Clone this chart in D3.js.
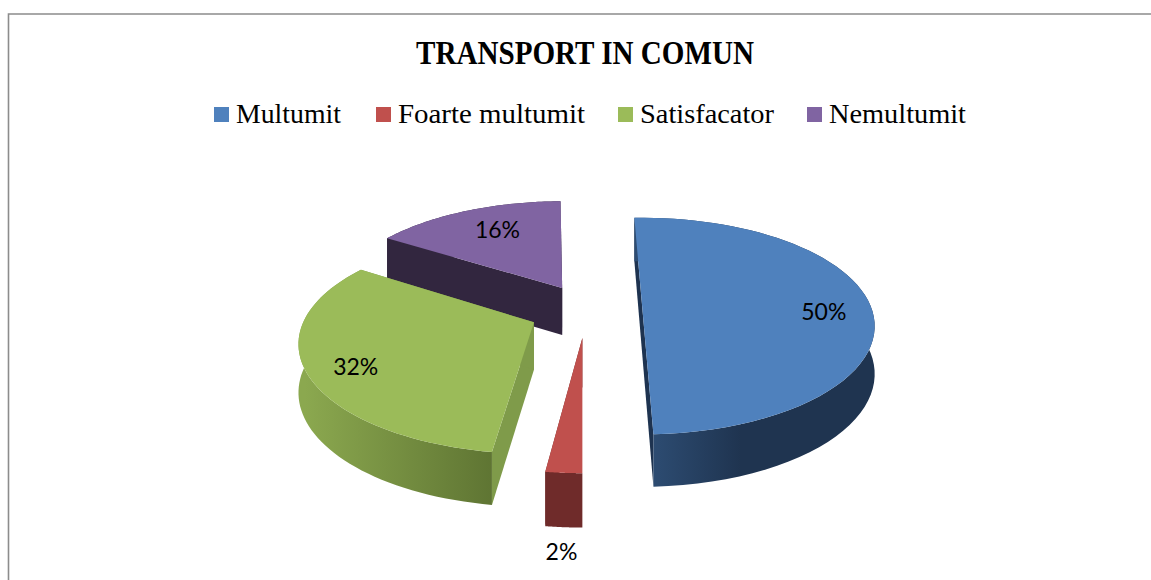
<!DOCTYPE html>
<html><head><meta charset="utf-8">
<script src="https://cdn.jsdelivr.net/npm/d3@7"></script>
<style>html,body{margin:0;padding:0;background:#fff}svg{display:block}</style>
</head><body><div id="chart"></div>
<script>
const chartTitle = "TRANSPORT IN COMUN";
const categories = ["Multumit", "Foarte multumit", "Satisfacator", "Nemultumit"];
const values = [50, 2, 32, 16];
const topColors = ["#4f81bd", "#c0504d", "#9bbb59", "#8064a2"];

const W = 1151, H = 580;
const svg = d3.select("#chart").append("svg").attr("width", W).attr("height", H);
const defs = svg.append("defs");

// chart frame (open at right and bottom, clipped by the window)
svg.append("path").attr("d", `M8.5,${H} V14 H${W}`).attr("fill", "none").attr("stroke", "#8c8c8c").attr("stroke-width", 1.6);

// title
svg.append("text").attr("x", 416).attr("y", 64).text(chartTitle)
  .attr("font-family", "Liberation Serif").attr("font-weight", "bold").attr("font-size", 33)
  .attr("textLength", 338).attr("lengthAdjust", "spacingAndGlyphs").attr("fill", "#000");

// legend
const legendSwatchX = [214, 376, 618, 807];
const legendTextW = [105, 187, 134, 137];
const legend = svg.append("g").selectAll("g").data(categories).join("g");
legend.append("rect").attr("x", (d, i) => legendSwatchX[i]).attr("y", 107).attr("width", 15).attr("height", 15)
  .attr("fill", (d, i) => topColors[i]);
legend.append("text").attr("x", (d, i) => legendSwatchX[i] + 22).attr("y", 123).text(d => d)
  .attr("font-family", "Liberation Serif").attr("font-size", 28)
  .attr("textLength", (d, i) => legendTextW[i]).attr("lengthAdjust", "spacingAndGlyphs").attr("fill", "#000");

// 3D pie: each slice is projected in perspective about its own apex,
// then moved outwards (explosion) in screen space.
const cx = 585, cy = 307, Rx = 228, Ry = 104, persp = 5, depth = 47, explodeX = 58, explodeY = 30;
const sX = d3.scaleLinear().domain([0, 1]).range([0, Rx]);
const sY = d3.scaleLinear().domain([0, 1]).range([0, Ry]);
const project = (u, v, z = 0) => {
  const s = persp / (persp - v);
  const zs = 1 + (s - 1) * 0.45;
  return [sX(u) * s, sY(v) * s + z * depth * zs];
};
const dir = a => [Math.sin(a), -Math.cos(a)];
const rad = Math.PI / 180;
const start = -1 * rad;
const arcs = d3.pie().sort(null).startAngle(start).endAngle(start + 2 * Math.PI)(values);
const line = d3.line();

// small per-slice corrections of the rendered 3D layout
const turn = [-1.3, 1, 2.2, 0.5];
const nudge = [[-1, -2], [0, 1], [1, 2], [6, 7]];
const sliceScale = [1, 1.04, 1.012, 1];

function sliceGeo(d, i) {
  const a0 = d.startAngle + turn[i] * rad, a1 = d.endAngle + turn[i] * rad;
  const mid = (d.startAngle + d.endAngle) / 2;
  const ax = cx + Math.sin(mid) * explodeX + nudge[i][0];
  const ay = cy - Math.cos(mid) * explodeY + nudge[i][1];
  const pt = (a, r, z) => {
    const [x, y] = dir(a);
    const [px, py] = project(x * r, y * r, z);
    return [ax + px * sliceScale[i], ay + py * sliceScale[i]];
  };
  const steps = d3.range(0, 61).map(k => a0 + (a1 - a0) * k / 60);
  return { a0, a1, mid, pt, steps };
}

const sideStops = [
  [["0", "#2d4c72"], ["0.4", "#1f3450"], ["1", "#1f3450"]],
  [["0", "#6f2b2a"], ["1", "#6f2b2a"]],
  [["0", "#8ba84f"], ["1", "#5f7533"]],
  [["0", "#32263f"], ["1", "#32263f"]]
];
const cutColors = ["#1e3350", "#6f2b2a", "#7f9b4a", "#32263f"];
const gradBounds = [[652, 874], [546, 582], [305, 492], [390, 560]];
sideStops.forEach((st, i) => {
  const g = defs.append("linearGradient").attr("id", "side" + i).attr("gradientUnits", "userSpaceOnUse")
    .attr("x1", gradBounds[i][0]).attr("x2", gradBounds[i][1]).attr("y1", 0).attr("y2", 0);
  st.forEach(s => g.append("stop").attr("offset", s[0]).attr("stop-color", s[1]));
});

// painter's order: back slices first
const order = [3, 2, 0, 1];
const pie = svg.append("g");
order.forEach(i => {
  const { a0, a1, pt, steps } = sliceGeo(arcs[i], i);
  const g = pie.append("g");
  const wall = a => [pt(a, 0, 0), pt(a, 1, 0), pt(a, 1, 1), pt(a, 0, 1)];
  g.append("path").attr("d", line(wall(a0)) + "Z").attr("fill", cutColors[i]);
  g.append("path").attr("d", line(wall(a1)) + "Z").attr("fill", cutColors[i]);
  const outer = steps.map(a => pt(a, 1, 0)).concat(steps.slice().reverse().map(a => pt(a, 1, 1)));
  g.append("path").attr("d", line(outer) + "Z").attr("fill", `url(#side${i})`);
  const top = [pt(a0, 0, 0)].concat(steps.map(a => pt(a, 1, 0)));
  g.append("path").attr("d", line(top) + "Z").attr("fill", topColors[i]);
});

// data labels
const labelRadius = [0.8, 1.4, 0.8, 0.7];
const labelShift = [[0, 9], [0, 4], [0, 5], [6, -2]];
arcs.forEach((d, i) => {
  const { mid, pt } = sliceGeo(d, i);
  const [x, y] = pt(mid, labelRadius[i], 0);
  svg.append("text").attr("x", x + labelShift[i][0]).attr("y", y + 8 + labelShift[i][1]).attr("text-anchor", "middle")
    .attr("font-family", "Lato").attr("font-size", 23).attr("fill", "#000").text(d.value + "%");
});
</script></body></html>
